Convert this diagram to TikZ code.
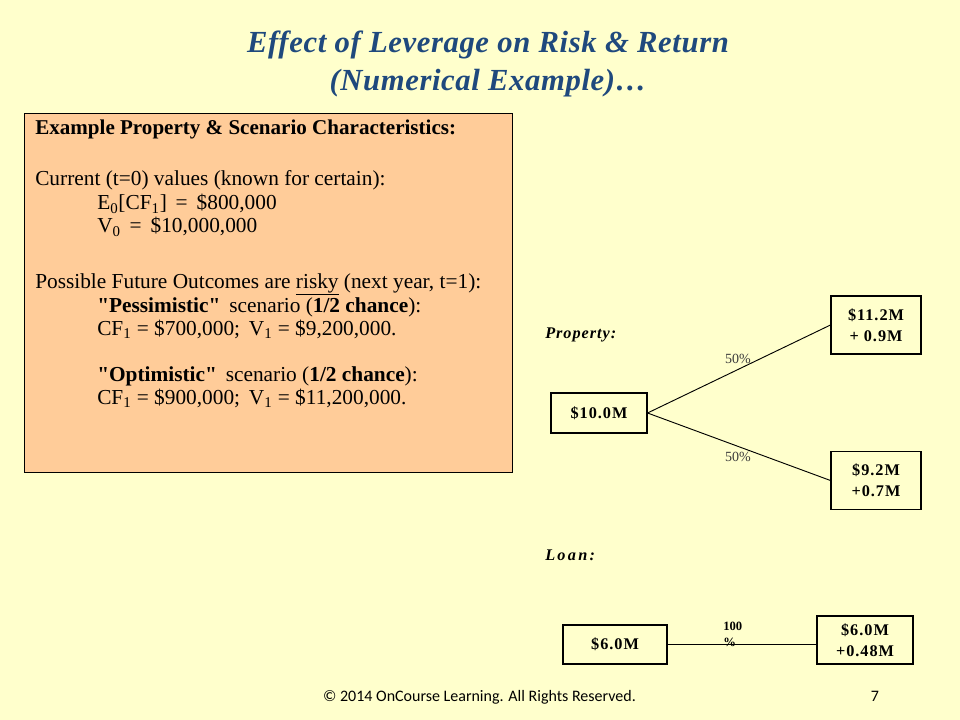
\documentclass[tikz,border=0pt]{standalone}
\usepackage{fontspec}
\setmainfont{Liberation Serif}
\newfontfamily\footfont{Carlito}
\newfontfamily\spacedserif[LetterSpace=6]{Liberation Serif}
\newfontfamily\widespacedserif[LetterSpace=14]{Liberation Serif}
\newfontfamily\titleserif[LetterSpace=2]{Liberation Serif}
\definecolor{bgyellow}{RGB}{255,255,204}
\definecolor{peach}{RGB}{255,204,153}
\definecolor{titleblue}{RGB}{31,73,125}
\definecolor{labelgray}{RGB}{60,60,60}
\tikzset{
  titletext/.style={font=\titleserif\fontsize{23}{27}\selectfont\bfseries\itshape, text=titleblue, inner sep=0pt},
  infobox/.style={draw=black, line width=0.9pt, fill=peach, inner sep=0pt},
  boxtext/.style={font=\fontsize{16}{19}\selectfont, anchor=base west, inner sep=0pt},
  boxhead/.style={font=\fontsize{15.8}{18}\selectfont\bfseries, anchor=base west, inner sep=0pt},
  valbox/.style={draw=black, line width=0.8pt, fill=bgyellow, align=center, inner sep=0pt,
    font=\spacedserif\fontsize{12.2}{15.5}\selectfont\bfseries},
  sidelabel/.style={font=\spacedserif\fontsize{12.2}{13}\selectfont\bfseries\itshape, anchor=base west, inner sep=0pt},
  widelabel/.style={font=\widespacedserif\fontsize{12.2}{13}\selectfont\bfseries\itshape, anchor=base west, inner sep=0pt},
  pct/.style={font=\fontsize{10.5}{12}\selectfont, text=labelgray, inner sep=0pt},
  branch/.style={draw=black, line width=0.7pt},
}
\newcommand{\dq}{\textquotedbl}
\begin{document}
\begin{tikzpicture}[x=0.75pt,y=-0.75pt]
\fill[bgyellow] (0,0) rectangle (960,720);
\useasboundingbox (0,0) rectangle (960,720);

% title
\node[titletext] (t1) at (488,45) {Effect of Leverage on Risk \& Return};
\node[titletext] (t2) at (488,83) {(Numerical Example)…};

% info box
\node[infobox, anchor=north west, minimum width=366pt, minimum height=269.25pt] (info) at (24,113) {};
\node[boxhead] (h) at (35,135) {Example Property \& Scenario Characteristics:};
\node[boxtext] (c1) at (35,186) {Current (t=0) values (known for certain):};
\node[boxtext] (c2) at (97,210) {E\textsubscript{0}[CF\textsubscript{1}] \,=\, \$800,000};
\node[boxtext] (c3) at (97,233) {V\textsubscript{0} \,=\, \$10,000,000};
\node[boxtext] (p1) at (35,288) {Possible Future Outcomes are \underline{risky} (next year, t=1):};
\node[boxtext] (p2) at (97,312) {\textbf{\dq Pessimistic\dq}\, scenario (\textbf{1/2 chance}):};
\node[boxtext] (p3) at (97,335) {CF\textsubscript{1} = \$700,000;\, V\textsubscript{1} = \$9,200,000.};
\node[boxtext] (p4) at (97,381) {\textbf{\dq Optimistic\dq}\, scenario (\textbf{1/2 chance}):};
\node[boxtext] (p5) at (97,404) {CF\textsubscript{1} = \$900,000;\, V\textsubscript{1} = \$11,200,000.};

% property tree
\node[sidelabel] (prop) at (545,338) {Property:};
\node[valbox, minimum width=72pt, minimum height=30pt] (v0) at (599,413) {\$10.0M};
\node[valbox, minimum width=67.5pt, minimum height=43.5pt] (vup) at (876,325) {\$11.2M\\+ 0.9M};
\node[valbox, minimum width=67.5pt, minimum height=43pt] (vdn) at (876,480.5) {\$9.2M\\+0.7M};
\draw[branch] (v0.east) -- (vup.west);
\draw[branch] (v0.east) -- (vdn.west);
\node[pct] (pu) at (738,359) {50\%};
\node[pct] (pd) at (738,457) {50\%};

% loan
\node[widelabel] (loan) at (545,560) {Loan:};
\node[valbox, minimum width=78pt, minimum height=29.25pt] (l0) at (615,644.5) {\$6.0M};
\node[valbox, minimum width=72pt, minimum height=36pt] (l1) at (865,640) {\$6.0M\\+0.48M};
\draw[branch] (l0.east) -- (l0.east -| l1.west);
\node[font=\fontsize{9.5}{12}\selectfont\bfseries, align=left, inner sep=0pt, anchor=north west] (lp) at (723,622) {100\\\%};

% footer
\node[font=\footfont\fontsize{12}{14}\selectfont, inner sep=0pt, anchor=base] (foot) at (479.5,701) {© 2014 OnCourse Learning. All Rights Reserved.};
\node[font=\footfont\fontsize{12}{14}\selectfont, inner sep=0pt, anchor=base] (pg) at (875,701) {7};
\end{tikzpicture}
\end{document}
